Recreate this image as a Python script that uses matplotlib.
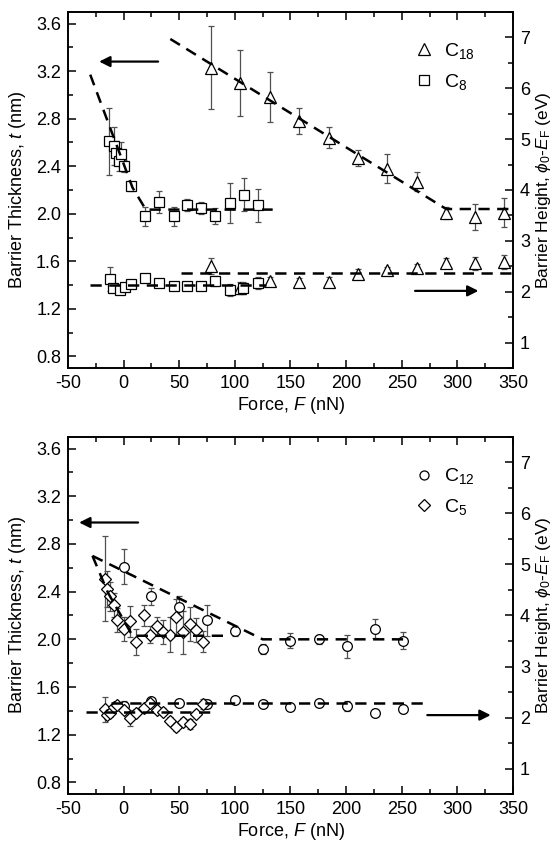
import numpy as np
import matplotlib
matplotlib.use('Agg')
import matplotlib.pyplot as plt
from matplotlib.ticker import MultipleLocator
from matplotlib.lines import Line2D

plt.rcParams['font.family'] = 'Liberation Sans'
plt.rcParams['mathtext.fontset'] = 'custom'
plt.rcParams['mathtext.rm'] = 'Liberation Sans'
plt.rcParams['mathtext.it'] = 'Liberation Sans:italic'
plt.rcParams['font.size'] = 13
plt.rcParams['axes.unicode_minus'] = False

# ---------------- top panel: C18 / C8 ----------------
c18_F = [79, 105, 131.5, 158, 184.5, 210.5, 236.5, 263.5, 290, 316, 342]
c18_t = [3.23, 3.10, 2.98, 2.78, 2.64, 2.47, 2.38, 2.27, 2.01, 1.97, 2.01]
c18_t_err = [0.35, 0.28, 0.21, 0.11, 0.09, 0.07, 0.12, 0.08, 0.05, 0.11, 0.12]
c18_phi = [2.51, 2.08, 2.22, 2.19, 2.20, 2.35, 2.42, 2.46, 2.57, 2.56, 2.59]
c18_phi_err = [0.15, 0.12, 0.07, 0.09, 0.10, 0.10, 0.07, 0.08, 0.10, 0.13, 0.14]

c8_F = [-13, -9, -6.6, -4.5, -2.7, 0.3, 6.9, 19.5, 31.8, 45, 57.3, 70, 82.6, 95.5, 108, 121]
c8_t = [2.61, 2.57, 2.51, 2.44, 2.50, 2.40, 2.23, 1.98, 2.10, 1.98, 2.07, 2.05, 1.98, 2.09, 2.16, 2.07]
c8_t_err = [0.28, 0.16, 0.10, 0.08, 0.10, 0.05, 0.04, 0.08, 0.09, 0.08, 0.05, 0.05, 0.07, 0.17, 0.14, 0.14]
c8_phi_F = [-12.6, -9.6, -3.6, 0.9, 6.3, 19.5, 31.8, 45, 57.3, 70, 82.6, 95.5, 107.5, 121]
c8_phi = [2.25, 2.07, 2.04, 2.09, 2.15, 2.28, 2.17, 2.12, 2.12, 2.12, 2.22, 2.04, 2.07, 2.17]
c8_phi_err = [0.24, 0.06, 0.05, 0.05, 0.04, 0.07, 0.05, 0.04, 0.04, 0.04, 0.10, 0.12, 0.12, 0.12]

# guide lines (top)
c18_t_fit_F = [42, 290, 350]
c18_t_fit = [3.47, 2.04, 2.04]
c8_t_fit_F = [-30, -10, 8, 20, 134]
c8_t_fit = [3.17, 2.67, 2.22, 2.035, 2.035]
c8_phi_fit_F = [-30, 128]
c8_phi_fit = [2.14, 2.14]
c18_phi_fit_F = [52, 350]
c18_phi_fit = [2.37, 2.37]

# ---------------- bottom panel: C12 / C5 ----------------
c12_F = [0, 25, 50, 75, 100, 125, 150, 176, 201, 226, 251]
c12_t = [2.61, 2.36, 2.27, 2.16, 2.07, 1.92, 1.99, 2.00, 1.94, 2.09, 1.99]
c12_t_err = [0.15, 0.07, 0.09, 0.13, 0.04, 0.04, 0.06, 0.04, 0.10, 0.08, 0.07]
c12_phi = [2.22, 2.33, 2.29, 2.27, 2.35, 2.27, 2.21, 2.29, 2.23, 2.10, 2.17]
c12_phi_err = [0.10, 0.05, 0.06, 0.08, 0.04, 0.03, 0.05, 0.04, 0.10, 0.06, 0.08]

c5_F = [-17, -14.8, -12.6, -8.8, -6, 0, 6, 11.5, 18, 24, 30, 35.5, 41.5, 47.5, 53.5, 59.5, 65, 71]
c5_t = [2.51, 2.42, 2.36, 2.29, 2.16, 2.09, 2.15, 1.98, 2.20, 2.04, 2.11, 2.06,
        2.04, 2.19, 2.06, 2.13, 2.08, 1.98]
c5_t_err = [0.36, 0.15, 0.12, 0.10, 0.10, 0.10, 0.13, 0.11, 0.09, 0.07, 0.08, 0.10,
            0.15, 0.15, 0.18, 0.14, 0.10, 0.09]
c5_phi = [2.16, 2.05, 2.10, 2.20, 2.24, 2.15, 1.99, 2.10, 2.18, 2.28, 2.15, 2.12,
          1.93, 1.82, 1.92, 1.88, 2.07, 2.27]
c5_phi_err = [0.25, 0.08, 0.08, 0.06, 0.06, 0.06, 0.16, 0.06, 0.06, 0.06, 0.06, 0.06,
              0.08, 0.08, 0.08, 0.10, 0.06, 0.10]

c12_t_fit_F = [-28, 125, 255]
c12_t_fit = [2.70, 2.00, 2.00]
c5_t_fit_F = [-28, -14, 8, 92]
c5_t_fit = [2.70, 2.39, 2.03, 2.03]
c5_phi_fit_F = [-34, 84]
c5_phi_fit = [2.11, 2.11]
c12_phi_fit_F = [-11, 270]
c12_phi_fit = [2.29, 2.29]

ERR = dict(ls='none', mfc='white', mec='black', mew=0.9, ecolor='#505050',
           elinewidth=0.9, capsize=2.5, capthick=0.9, zorder=3)
DASH = dict(color='black', lw=1.8, ls=(0, (4.5, 3)), zorder=5)


def style(ax, axr):
    ax.set_xlim(-50, 350)
    ax.set_ylim(0.7, 3.7)
    axr.set_ylim(0.5, 7.5)
    ax.xaxis.set_major_locator(MultipleLocator(50))
    ax.xaxis.set_minor_locator(MultipleLocator(25))
    ax.yaxis.set_major_locator(MultipleLocator(0.4))
    ax.yaxis.set_minor_locator(MultipleLocator(0.2))
    axr.yaxis.set_major_locator(MultipleLocator(1))
    axr.yaxis.set_minor_locator(MultipleLocator(0.5))
    ax.tick_params(which='both', direction='in', top=True, right=False, width=1.1)
    ax.tick_params(which='major', length=6, pad=5)
    ax.tick_params(which='minor', length=3.5)
    axr.tick_params(which='both', direction='in', width=1.1)
    axr.tick_params(which='major', length=6, pad=5)
    axr.tick_params(which='minor', length=3.5)
    for a in (ax, axr):
        for s in a.spines.values():
            s.set_linewidth(1.2)
    ax.set_yticks(np.arange(0.8, 3.61, 0.4))
    ax.set_yticklabels(['%.1f' % v for v in np.arange(0.8, 3.61, 0.4)])
    ax.set_xlabel('Force, $F$ (nN)', labelpad=2)
    ax.set_ylabel('Barrier Thickness, $t$ (nm)', labelpad=6)
    axr.set_ylabel(r'Barrier Height, $\phi_0$-$E_\mathrm{F}$ (eV)', labelpad=3,
                   fontsize=12.5)


def arrow(ax, x0, x1, y):
    ax.annotate('', xy=(x1, y), xytext=(x0, y),
                arrowprops=dict(arrowstyle='-|>', color='black', lw=1.6,
                                mutation_scale=16, shrinkA=0, shrinkB=0))


fig = plt.figure(figsize=(5.6, 8.44), dpi=100)

# top panel
ax1 = fig.add_axes([0.1214, 0.5636, 0.7946, 0.4226])
ax1r = ax1.twinx()
style(ax1, ax1r)
ax1.errorbar(c18_F, c18_t, yerr=c18_t_err, marker='^', ms=8, **ERR)
ax1.errorbar(c8_F, c8_t, yerr=c8_t_err, marker='s', ms=6.5, **ERR)
ax1.plot(c18_t_fit_F, c18_t_fit, **DASH)
ax1.plot(c8_t_fit_F, c8_t_fit, **DASH)
ax1r.errorbar(c18_F, c18_phi, yerr=c18_phi_err, marker='^', ms=8, **ERR)
ax1r.errorbar(c8_phi_F, c8_phi, yerr=c8_phi_err, marker='s', ms=6.5, **ERR)
ax1r.plot(c8_phi_fit_F, c8_phi_fit, **DASH)
ax1r.plot(c18_phi_fit_F, c18_phi_fit, **DASH)
arrow(ax1, 31, -22, 3.28)
arrow(ax1r, 262, 319, 2.02)
h = [Line2D([], [], ls='none', marker='^', ms=8, mfc='white', mec='black', mew=0.9),
     Line2D([], [], ls='none', marker='s', ms=6.5, mfc='white', mec='black', mew=0.9)]
ax1r.legend(h, ['C$_{18}$', 'C$_{8}$'], loc='upper left', bbox_to_anchor=(0.735, 0.966),
            frameon=False, handlelength=1.2, handletextpad=0.4, labelspacing=0.55,
            fontsize=14)

# bottom panel
ax2 = fig.add_axes([0.1214, 0.0589, 0.7946, 0.4237])
ax2r = ax2.twinx()
style(ax2, ax2r)
ax2.errorbar(c12_F, c12_t, yerr=c12_t_err, marker='o', ms=7, **ERR)
ax2.errorbar(c5_F, c5_t, yerr=c5_t_err, marker='D', ms=6.5, **ERR)
ax2.plot(c12_t_fit_F, c12_t_fit, **DASH)
ax2.plot(c5_t_fit_F, c5_t_fit, **DASH)
ax2r.errorbar(c12_F, c12_phi, yerr=c12_phi_err, marker='o', ms=7, **ERR)
ax2r.errorbar(c5_F, c5_phi, yerr=c5_phi_err, marker='D', ms=6.5, **ERR)
ax2r.plot(c5_phi_fit_F, c5_phi_fit, **DASH)
ax2r.plot(c12_phi_fit_F, c12_phi_fit, **DASH)
arrow(ax2, 13, -40, 2.98)
arrow(ax2r, 273, 330, 2.05)
h = [Line2D([], [], ls='none', marker='o', ms=6.5, mfc='white', mec='black', mew=0.9),
     Line2D([], [], ls='none', marker='D', ms=6, mfc='white', mec='black', mew=0.9)]
ax2r.legend(h, ['C$_{12}$', 'C$_{5}$'], loc='upper left', bbox_to_anchor=(0.735, 0.966),
            frameon=False, handlelength=1.2, handletextpad=0.4, labelspacing=0.55,
            fontsize=14)

fig.savefig('out.png', dpi=100)
